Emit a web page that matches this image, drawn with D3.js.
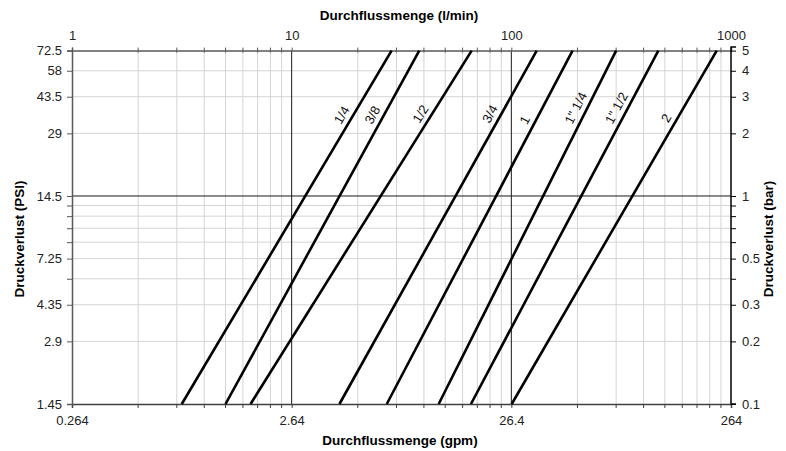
<!DOCTYPE html>
<html>
<head>
<meta charset="utf-8">
<script src="https://cdn.jsdelivr.net/npm/d3@7"></script>
<style>
  body { margin: 0; background: #fff; }
  svg { display: block; font-family: "Liberation Sans", Arial, sans-serif; }
</style>
</head>
<body>
<svg id="chart" width="786" height="451"></svg>
<script>
// ---- data ----
const sizes = ["1/4", "3/8", "1/2", "3/4", "1", "1\" 1/4", "1\" 1/2", "2"];
// flow (l/min) at 0.1 bar and at 5 bar for each line
const flowAtMin = [3.16, 5.0, 6.5, 16.5, 27.1, 46.7, 65.5, 100.4];
const flowAtMax = [28.5, 38.1, 66.0, 130.5, 190, 300, 467, 861];
const pressureRange = [0.1, 5];           // bar
const topTicks = [1, 10, 100, 1000];       // l/min
const topTickLabels = ["1", "10", "100", "1000"];
const bottomTicks = [0.264, 2.64, 26.4, 264]; // gpm
const bottomTickLabels = ["0.264", "2.64", "26.4", "264"];
const barTicks = [5, 4, 3, 2, 1, 0.5, 0.3, 0.2, 0.1];
const barTickLabels = ["5", "4", "3", "2", "1", "0.5", "0.3", "0.2", "0.1"];
const psiTickLabels = ["72.5", "58", "43.5", "29", "14.5", "7.25", "4.35", "2.9", "1.45"];
const barMinorTicks = [0.9, 0.8, 0.7, 0.6, 0.4];
const labelPressure = [2.45, 2.45, 2.48, 2.48, 2.32, 2.65, 2.65, 2.37]; // bar, where each label sits

// ---- layout ----
const L = 72, R = 731, T = 50.6, B = 404;
const svg = d3.select("#chart");

const x = d3.scaleLog().domain([1, 1000]).range([L, R]);
const xg = d3.scaleLog().domain([0.264, 264]).range([L, R]);
const y = d3.scaleLog().domain([0.1, 5]).range([B, T]);

// grid values
const xGrid = [];
for (let k = 0; k < 3; k++) for (let m = 1; m < 10; m++) xGrid.push(m * Math.pow(10, k));
xGrid.push(1000);
const yGrid = [0.1,0.2,0.3,0.4,0.5,0.6,0.7,0.8,0.9,1,2,3,4,5];

const g = svg.append("g");
// minor grid
g.selectAll(".vg").data(xGrid.filter(v => v !== 10 && v !== 100 && v !== 1 && v !== 1000))
  .enter().append("line")
  .attr("x1", d => x(d)).attr("x2", d => x(d)).attr("y1", T).attr("y2", B)
  .attr("stroke", "#d4d4d4").attr("stroke-width", 1);
g.selectAll(".hg").data(yGrid.filter(v => v !== 1 && v !== 0.1 && v !== 5))
  .enter().append("line")
  .attr("y1", d => y(d)).attr("y2", d => y(d)).attr("x1", L).attr("x2", R)
  .attr("stroke", "#d4d4d4").attr("stroke-width", 1);
// major grid
g.selectAll(".vmg").data([10, 100]).enter().append("line")
  .attr("x1", d => x(d)).attr("x2", d => x(d)).attr("y1", T).attr("y2", B)
  .attr("stroke", "#1a1a1a").attr("stroke-width", 1);
g.append("line").attr("x1", L).attr("x2", R).attr("y1", y(1)).attr("y2", y(1))
  .attr("stroke", "#1a1a1a").attr("stroke-width", 1);

// axes
const tickFmt = (vals, labels) => d => { const i = vals.indexOf(d); return i >= 0 ? labels[i] : ""; };

const topAxis = d3.axisTop(x).tickValues(topTicks).tickFormat(tickFmt(topTicks, topTickLabels)).tickSize(3).tickPadding(8);
const bottomAxis = d3.axisBottom(xg).tickValues(bottomTicks).tickFormat(tickFmt(bottomTicks, bottomTickLabels)).tickSize(4).tickPadding(8);
const leftAxis = d3.axisLeft(y).tickValues(barTicks.concat(barMinorTicks)).tickFormat(tickFmt(barTicks, psiTickLabels)).tickSize(5).tickPadding(5);
const rightAxis = d3.axisRight(y).tickValues(barTicks.concat(barMinorTicks)).tickFormat(tickFmt(barTicks, barTickLabels)).tickSize(5).tickPadding(6);

function styleAxis(sel, color) {
  sel.select(".domain").attr("stroke", color).attr("stroke-width", 1.5);
  sel.selectAll(".tick line").attr("stroke", color).attr("stroke-width", 1);
  sel.selectAll(".tick text").attr("fill", "#222").style("font-size", "13px")
     .style("font-family", "'Liberation Sans', Arial, sans-serif");
}

const gTop = svg.append("g").attr("transform", `translate(0,${T})`).call(topAxis);
styleAxis(gTop, "#595959");
// minor top ticks crossing the axis line
svg.append("g").selectAll("line").data(xGrid.filter(v => topTicks.indexOf(v) < 0)).enter().append("line")
  .attr("x1", d => x(d)).attr("x2", d => x(d)).attr("y1", T - 3).attr("y2", T + 2)
  .attr("stroke", "#595959").attr("stroke-width", 1);

const gBottom = svg.append("g").attr("transform", `translate(0,${B})`).call(bottomAxis);
styleAxis(gBottom, "#404040");
svg.append("g").selectAll("line").data(xGrid.filter(v => topTicks.indexOf(v) < 0)).enter().append("line")
  .attr("x1", d => x(d)).attr("x2", d => x(d)).attr("y1", B).attr("y2", B + 4)
  .attr("stroke", "#404040").attr("stroke-width", 1);

const gLeft = svg.append("g").attr("transform", `translate(${L},0)`).call(leftAxis);
styleAxis(gLeft, "#595959");
const gRight = svg.append("g").attr("transform", `translate(${R},0)`).call(rightAxis);
styleAxis(gRight, "#000");
gRight.select(".domain").attr("d", `M5,${T - 3.5}H0V${B}H5`);

// series lines
const lineGen = d3.line().x(d => x(d[0])).y(d => y(d[1]));
const series = sizes.map((s, i) => ({
  name: s,
  pts: [[flowAtMin[i], pressureRange[0]], [flowAtMax[i], pressureRange[1]]],
  lp: labelPressure[i]
}));
svg.append("g").selectAll("path").data(series).enter().append("path")
  .attr("d", d => lineGen(d.pts))
  .attr("fill", "none").attr("stroke", "#000").attr("stroke-width", 2.6);

// line labels
svg.append("g").selectAll("text").data(series).enter().append("text")
  .each(function (d) {
    const [p0, p1] = d.pts;
    const x0 = x(p0[0]), y0 = y(p0[1]), x1 = x(p1[0]), y1 = y(p1[1]);
    const ly = y(d.lp);
    const t = (ly - y0) / (y1 - y0);
    const lx = x0 + t * (x1 - x0) - 11.5;
    const ang = Math.atan2(y1 - y0, x1 - x0) * 180 / Math.PI;
    d3.select(this)
      .attr("transform", `translate(${lx},${ly}) rotate(${ang})`)
      .attr("text-anchor", "middle").attr("dominant-baseline", "central")
      .style("font-size", "13px").attr("fill", "#111")
      .text(d.name);
  });

// titles
const titleStyle = s => s.style("font-size", "13.5px").style("font-weight", "bold").attr("fill", "#000").attr("text-anchor", "middle");
svg.append("text").attr("x", 399).attr("y", 20).text("Durchflussmenge (l/min)").call(titleStyle);
svg.append("text").attr("x", 400).attr("y", 445).text("Durchflussmenge (gpm)").call(titleStyle);
svg.append("text").attr("transform", "translate(24,239) rotate(-90)").text("Druckverlust (PSI)").call(titleStyle);
svg.append("text").attr("transform", "translate(773,239) rotate(-90)").text("Druckverlust (bar)").call(titleStyle);
</script>
</body>
</html>
